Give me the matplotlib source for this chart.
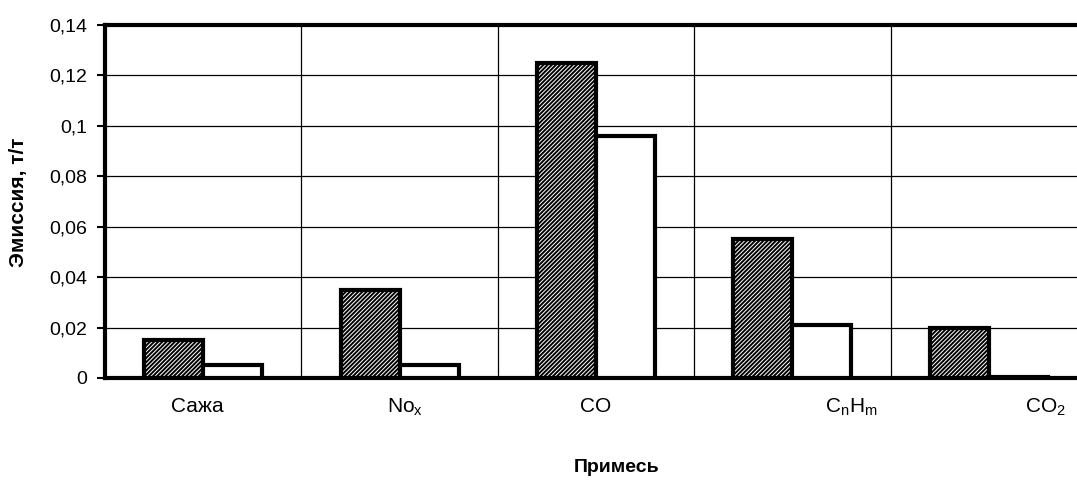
import matplotlib.pyplot as plt
import numpy as np

plt.rcParams['font.family'] = ['Liberation Sans', 'DejaVu Sans']
plt.rcParams['hatch.linewidth'] = 1.4

# data
categories = ['Сажа', 'No$_\\mathregular{x}$', 'CO', 'C$_\\mathregular{n}$H$_\\mathregular{m}$', 'CO$_\\mathregular{2}$']
series_a = [0.015, 0.035, 0.125, 0.055, 0.020]   # hatched
series_b = [0.005, 0.005, 0.096, 0.021, 0.0005]  # white
label_shift = [-0.03, 0.03, 0.0, 0.3, 0.29]      # labels in the scan sit off-centre

fig = plt.figure(figsize=(10.77, 4.84), dpi=100)
ax = fig.add_axes([105 / 1077, 1 - 378 / 484, 982 / 1077, 353 / 484])

x = np.arange(len(categories))
w = 0.3
ax.bar(x - w / 2, series_a, width=w, color='white', edgecolor='black',
       hatch='////////', linewidth=3, zorder=3)
ax.bar(x + w / 2, series_b, width=w, color='white', edgecolor='black',
       linewidth=3, zorder=3)

ax.set_xlim(-0.5, 4.5)
ax.set_ylim(0, 0.14)
yt = np.arange(0, 0.141, 0.02)
ax.set_yticks(yt)
ax.set_yticklabels(['0'] + [('%g' % v).replace('.', ',') for v in yt[1:]], fontsize=14)
ax.set_xticks(np.arange(-0.5, 4.6, 1))
ax.set_xticklabels([])
ax.tick_params(axis='x', length=0)
ax.tick_params(axis='y', length=6, width=1.5, pad=7)
ax.grid(True, color='black', linewidth=0.9, zorder=0)

for i, c in enumerate(categories):
    ax.text(i + label_shift[i], -0.0115, c, ha='center', va='center', fontsize=15,
            transform=ax.transData)

for s in ['top', 'left', 'bottom']:
    ax.spines[s].set_linewidth(3)
ax.spines['right'].set_visible(False)

fig.text(19 / 1077, 1 - 202 / 484, 'Эмиссия, т/т', rotation=90, ha='center', va='center',
         fontsize=15, fontweight='bold')
fig.text(617 / 1077, 1 - 467 / 484, 'Примесь', ha='center', va='center',
         fontsize=14, fontweight='bold')

fig.savefig('out.png', dpi=100)
